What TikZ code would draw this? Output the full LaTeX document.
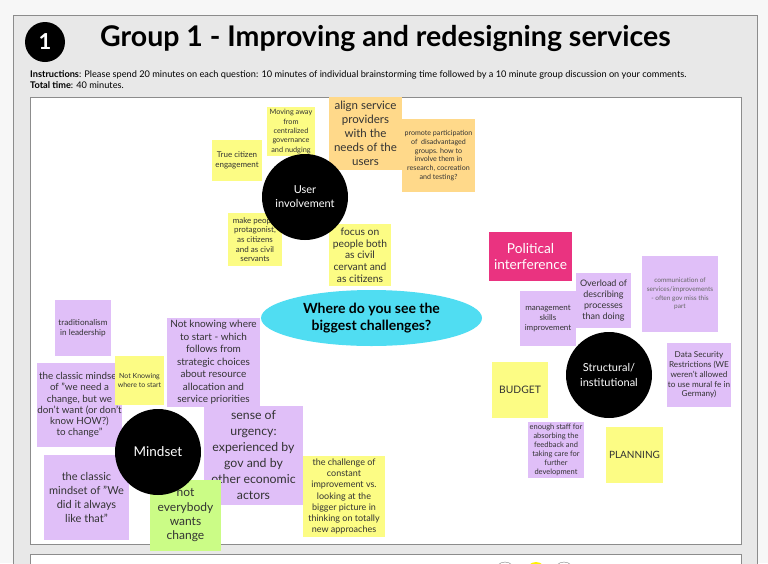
\documentclass[tikz,border=0pt]{standalone}
\usepackage{fontspec}
\setmainfont{Lato}
\usetikzlibrary{shapes.geometric}
\definecolor{pageBg}{HTML}{F7F7F7}
\definecolor{panelGray}{HTML}{E8E8E8}
\definecolor{edgeGray}{HTML}{8C8C8C}
\definecolor{stYellow}{HTML}{FCFC84}
\definecolor{stOrange}{HTML}{FFD98A}
\definecolor{stPurple}{HTML}{E0BFF8}
\definecolor{stPink}{HTML}{EA3380}
\definecolor{stGreen}{HTML}{CBFC86}
\definecolor{qCyan}{HTML}{50DDF2}
\definecolor{txtDark}{HTML}{333333}
\newcommand{\fsz}[2]{\fontsize{#1}{#2}\selectfont}

\tikzset{
  sticky/.style={rectangle, align=center, inner sep=0pt, text=txtDark},
  topic/.style={circle, fill=black, text=white, align=center, minimum size=86pt, inner sep=0pt},
}

\begin{document}
\begin{tikzpicture}[x=1pt,y=-1pt]
  \useasboundingbox (0,0) rectangle (768,563);
  \fill[pageBg] (0,0) rectangle (768,563);
  % board frame
  \draw[edgeGray,fill=panelGray] (13,15) rectangle (757,590);
  \draw[edgeGray,fill=white,line width=1pt] (30,97) rectangle (741,544);
  \draw[edgeGray,fill=white,line width=1pt] (30,554) rectangle (741,600);
  \node[circle,draw=gray,fill=white,minimum size=20pt] (dotA) at (505,572) {};
  \node[circle,fill=yellow,minimum size=20pt] (dotB) at (536,572) {};
  \node[circle,draw=gray,fill=white,minimum size=20pt] (dotC) at (564,572) {};

  % heading
  \node[circle,fill=black,text=white,minimum size=40pt,inner sep=0pt,font=\bfseries\fsz{22}{22}] (num) at (45,42) {1};
  \node[anchor=west,inner sep=0pt,font=\bfseries\fsz{28.5}{32}] (title) at (100,38) {Group 1 - Improving and redesigning services};
  \node[anchor=north west,align=left,inner sep=0pt,font=\fsz{9.2}{11}] (instr) at (30,70.5) {\textbf{Instructions}: Please spend 20 minutes on each question: 10 minutes of individual brainstorming time followed by a 10 minute group discussion on your comments.\\\textbf{Total time}: 40 minutes.};

  % user involvement notes
  \node[sticky,fill=stYellow,minimum width=50pt,minimum height=41pt,font=\fsz{8}{10}] (citizen) at (237,160.5) {True citizen\\engagement};
  \node[sticky,fill=stYellow,minimum width=48pt,minimum height=49pt,font=\fsz{7.3}{9.3}] (moving) at (291,131.5) {Moving away\\from\\centralized\\governance\\and nudging};
  \node[sticky,fill=stOrange,minimum width=73pt,minimum height=73pt,font=\fsz{11.5}{13.9}] (align) at (365.5,133.5) {align service\\providers\\with the\\needs of the\\users};
  \node[sticky,fill=stOrange,minimum width=73pt,minimum height=73pt,font=\fsz{7.1}{8.7}] (promote) at (438.5,155.5) {promote participation\\of~ disadvantaged\\groups. how to\\involve them in\\research, cocreation\\and testing?};
  \node[sticky,fill=stYellow,minimum width=54pt,minimum height=53pt,font=\fsz{8}{9.6}] (people) at (255,239.5) {make people\\protagonist,\\as citizens\\and as civil\\servants};
  \node[sticky,fill=stYellow,minimum width=62pt,minimum height=62pt,font=\fsz{10.3}{11.7}] (focus) at (360,255) {focus on\\people both\\as civil\\cervant and\\as citizens};

  % structural notes
  \node[sticky,fill=stPink,text=white,minimum width=83pt,minimum height=49pt,font=\fsz{13.7}{16.7}] (political) at (530.5,256.5) {Political\\interference};
  \node[sticky,fill=stPurple,minimum width=56pt,minimum height=55pt,font=\fsz{8}{10}] (mgmt) at (548,318.5) {management\\skills\\improvement};
  \node[sticky,fill=stPurple,minimum width=55pt,minimum height=55pt,font=\fsz{9}{11.3}] (overload) at (603.5,300.5) {Overload of\\describing\\processes\\than doing};
  \node[sticky,fill=stPurple,text=black!60,minimum width=76pt,minimum height=76pt,font=\fsz{6.5}{8.7}] (communic) at (680,294) {communication of\\services/improvements\\- often gov miss this\\part};
  \node[sticky,fill=stPurple,minimum width=64pt,minimum height=64pt,font=\fsz{8.2}{9.8}] (datasec) at (699,375) {Data Security\\Restrictions (WE\\weren't allowed\\to use mural fe in\\Germany)};
  \node[sticky,fill=stYellow,minimum width=56pt,minimum height=56pt,font=\fsz{10.3}{11}] (budget) at (520,390) {BUDGET};
  \node[sticky,fill=stPurple,minimum width=56pt,minimum height=56pt,font=\fsz{7.5}{8.9}] (staff) at (556,450) {enough staff for\\absorbing the\\feedback and\\taking care for\\further\\development};
  \node[sticky,fill=stYellow,minimum width=57pt,minimum height=56pt,font=\fsz{10}{11}] (planning) at (634.5,455) {PLANNING};

  % mindset notes
  \node[sticky,fill=stPurple,minimum width=56pt,minimum height=56pt,font=\fsz{8.2}{10}] (tradition) at (83,328) {traditionalism\\in leadership};
  \node[sticky,fill=stPurple,minimum width=85pt,minimum height=84pt,font=\fsz{9.8}{11.2}] (needchange) at (79.5,405) {the classic mindset\\of "we need a\\change, but we\\don't want (or don't\\know HOW?)\\to change"};
  \node[sticky,fill=stYellow,minimum width=49pt,minimum height=49pt,font=\fsz{7}{9.3}] (notknow) at (139.5,380.5) {Not Knowing\\where to start};
  \node[sticky,fill=stPurple,minimum width=93pt,minimum height=89pt,font=\fsz{10}{12.5}] (wherestart) at (213.5,362.5) {Not knowing where\\to start - which\\follows from\\strategic choices\\about resource\\allocation and\\service priorities};
  \node[sticky,fill=stPurple,minimum width=99pt,minimum height=99pt,font=\fsz{12.3}{16}] (urgency) at (253.5,455.5) {sense of\\urgency:\\experienced by\\gov and by\\other economic\\actors};
  \node[sticky,fill=stPurple,minimum width=85pt,minimum height=85pt,font=\fsz{11}{14}] (alwaysdid) at (86.5,497.5) {the classic\\mindset of "We\\did it always\\like that"};
  \node[sticky,fill=stGreen,minimum width=71pt,minimum height=71pt,font=\fsz{12}{14.3}] (noteverybody) at (185.5,515.5) {not\\everybody\\wants\\change};
  \node[sticky,fill=stYellow,minimum width=82pt,minimum height=81pt,font=\fsz{9}{11.2}] (challenge) at (344,496.5) {the challenge of\\constant\\improvement vs.\\looking at the\\bigger picture in\\thinking on totally\\new approaches};

  % topics and question
  \node[topic,font=\fsz{11}{14}] (userinv) at (305,197) {User\\involvement};
  \node[topic,font=\fsz{13.5}{15}] (mindset) at (158,452) {Mindset};
  \node[topic,font=\fsz{11}{15}] (structural) at (609,375) {Structural/\\institutional};
  \node[ellipse,fill=qCyan,minimum width=221pt,minimum height=56pt,inner sep=0pt,align=center,font=\bfseries\fsz{14}{17}] (question) at (371.5,318) {Where do you see the\\biggest challenges?};
\end{tikzpicture}
\end{document}
